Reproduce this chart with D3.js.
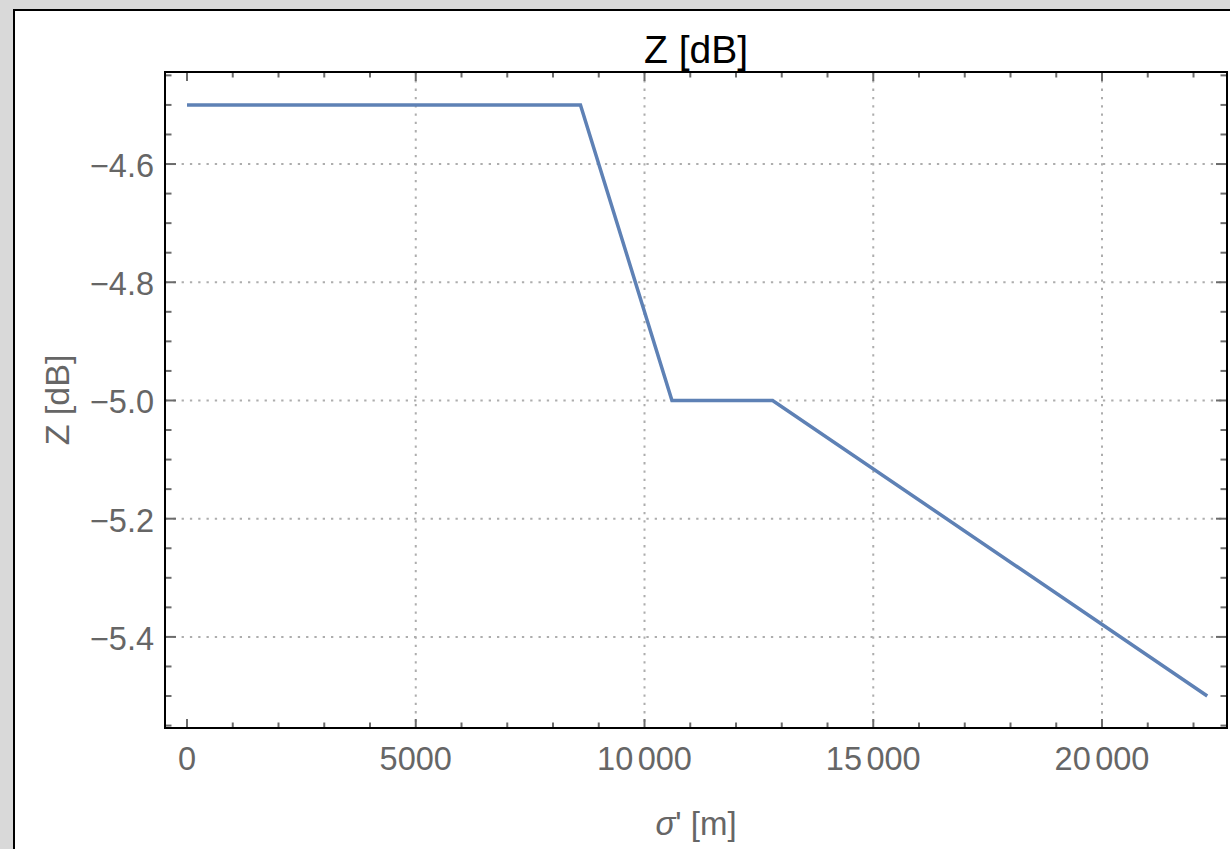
<!DOCTYPE html>
<html>
<head>
<meta charset="utf-8">
<script src="https://cdn.jsdelivr.net/npm/d3@7"></script>
<style>
  html, body { margin: 0; padding: 0; background: #d9d9d9; }
  svg { display: block; }
</style>
</head>
<body>
<svg id="chart" width="1230" height="849"></svg>
<script>
// ---- data ----
const sigmaValues = [0, 8600, 10600, 12800, 22300];
const zValues = [-4.5, -4.5, -5.0, -5.0, -5.5];
const xMajorTicks = [0, 5000, 10000, 15000, 20000];
const xGridTicks = [5000, 10000, 15000, 20000];
const yMajorTicks = [-4.6, -4.8, -5.0, -5.2, -5.4];
const yTickLabels = ["\u22124.6", "\u22124.8", "\u22125.0", "\u22125.2", "\u22125.4"];
const titleText = "Z [dB]";
const yLabelText = "Z [dB]";

(function () {
const svg = d3.select("#chart");
const W = 1230, H = 849;
const pLeft = 165, pRight = 1227, pTop = 72, pBottom = 728;

// background panel
svg.append("rect").attr("x", 0).attr("y", 0).attr("width", W).attr("height", H).attr("fill", "#d9d9d9");
svg.append("rect").attr("x", 14).attr("y", 10).attr("width", W + 20).attr("height", H + 20)
  .attr("fill", "#ffffff").attr("stroke", "#000").attr("stroke-width", 2);

const x = d3.scaleLinear().domain([-481, 22732]).range([pLeft, pRight]);
const y = d3.scaleLinear().domain([-4.4443, -5.5541]).range([pTop, pBottom]);

const xMinor = d3.range(0, 22001, 1000).filter(v => !xMajorTicks.includes(v));
const yMinor = d3.range(0, 23).map(i => -4.45 - 0.05 * i).filter(v => !yMajorTicks.some(m => Math.abs(m - v) < 1e-9));

const g = svg.append("g");

// grid
const gridStyle = sel => sel.attr("stroke", "#adadad").attr("stroke-width", 2).attr("stroke-dasharray", "2.3,6");
g.selectAll(".gx").data(xGridTicks).enter().append("line")
  .attr("x1", d => x(d)).attr("x2", d => x(d)).attr("y1", pTop).attr("y2", pBottom).call(gridStyle);
g.selectAll(".gy").data(yMajorTicks).enter().append("line")
  .attr("x1", pLeft).attr("x2", pRight).attr("y1", d => y(d)).attr("y2", d => y(d)).call(gridStyle);

// line
const line = d3.line().x((d, i) => x(sigmaValues[i])).y(d => y(d));
g.append("path").datum(zValues).attr("d", line).attr("fill", "none")
  .attr("stroke", "#5e81b5").attr("stroke-width", 3.5).attr("stroke-linejoin", "miter");

// ticks
const tickColor = "#6b6b6b";
function xTicks(vals, len) {
  vals.forEach(v => {
    g.append("line").attr("x1", x(v)).attr("x2", x(v)).attr("y1", pBottom).attr("y2", pBottom - len)
      .attr("stroke", tickColor).attr("stroke-width", 2);
    g.append("line").attr("x1", x(v)).attr("x2", x(v)).attr("y1", pTop).attr("y2", pTop + len)
      .attr("stroke", tickColor).attr("stroke-width", 2);
  });
}
function yTicks(vals, len) {
  vals.forEach(v => {
    g.append("line").attr("x1", pLeft).attr("x2", pLeft + len).attr("y1", y(v)).attr("y2", y(v))
      .attr("stroke", tickColor).attr("stroke-width", 2);
    g.append("line").attr("x1", pRight).attr("x2", pRight - len).attr("y1", y(v)).attr("y2", y(v))
      .attr("stroke", tickColor).attr("stroke-width", 2);
  });
}
xTicks(xMajorTicks, 9);
xTicks(xMinor, 5.5);
yTicks(yMajorTicks, 11);
yTicks(yMinor, 6.5);

// frame
g.append("rect").attr("x", pLeft).attr("y", pTop).attr("width", pRight - pLeft).attr("height", pBottom - pTop)
  .attr("fill", "none").attr("stroke", "#000").attr("stroke-width", 2);

const font = "'Liberation Sans', Arial, sans-serif";
const labelColor = "#666666";

// x tick labels with thin digit-group gap
xMajorTicks.forEach(v => {
  const t = g.append("text").attr("x", x(v)).attr("y", 770).attr("text-anchor", "middle")
    .attr("font-family", font).attr("font-size", 32.5).attr("fill", labelColor);
  if (v >= 10000) {
    const s = String(v);
    t.append("tspan").text(s.slice(0, s.length - 3));
    t.append("tspan").attr("dx", 4.5).text(s.slice(s.length - 3));
  } else {
    t.text(String(v));
  }
});

// y tick labels
yMajorTicks.forEach((v, i) => {
  g.append("text").attr("x", 154).attr("y", y(v)).attr("dy", "0.4em").attr("text-anchor", "end")
    .attr("font-family", font).attr("font-size", 32.5).attr("fill", labelColor).text(yTickLabels[i]);
});

// title
g.append("text").attr("x", (pLeft + pRight) / 2).attr("y", 63).attr("text-anchor", "middle")
  .attr("font-family", font).attr("font-size", 39).attr("fill", "#000").text(titleText);

// x axis label
const xl = g.append("text").attr("x", (pLeft + pRight) / 2).attr("y", 835).attr("text-anchor", "middle")
  .attr("font-family", font).attr("font-size", 33).attr("fill", labelColor);
xl.append("tspan").attr("font-style", "italic").text("\u03c3");
xl.append("tspan").text("' [m]");

// y axis label
g.append("text").attr("transform", `translate(69,${(pTop + pBottom) / 2}) rotate(-90)`)
  .attr("text-anchor", "middle").attr("font-family", font).attr("font-size", 34)
  .attr("fill", labelColor).text(yLabelText);
})();
</script>
</body>
</html>
